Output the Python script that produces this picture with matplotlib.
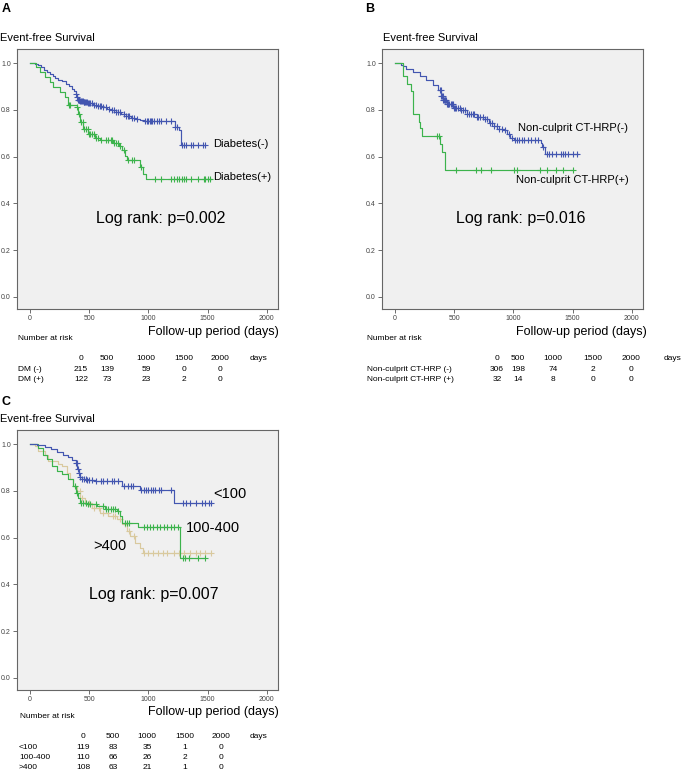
import numpy as np
import matplotlib
matplotlib.use("Agg")
import matplotlib.pyplot as plt

plt.rcParams["font.family"] = ["Liberation Sans", "DejaVu Sans"]

W, H = 683, 770
BLUE = "#4356b0"
GREEN = "#3cb34c"
TAN = "#d9c99e"

# ---- panel A: diabetes ----
a_neg_t = [0, 45, 70, 95, 120, 140, 165, 190, 215, 240, 270, 300, 330, 355, 375, 390, 398, 405, 420,
           450, 490, 530, 570, 610, 650, 690, 730, 770, 810, 850, 890, 930, 965, 1222, 1255, 1272, 1476]
a_neg_s = [1.0, 0.995, 0.99, 0.981, 0.972, 0.963, 0.953, 0.943, 0.934, 0.929, 0.924, 0.912, 0.900, 0.889,
           0.879, 0.866, 0.853, 0.843, 0.838, 0.833, 0.828, 0.822, 0.816, 0.810, 0.805, 0.797, 0.789, 0.780,
           0.772, 0.766, 0.761, 0.756, 0.751, 0.728, 0.712, 0.650, 0.650]
a_neg_cens = [392, 398, 405, 410, 414, 418, 424, 430, 438, 445, 452, 460, 468, 475, 482, 490, 500, 510, 525,
              540, 560, 575, 590, 600, 620, 640, 665, 690, 710, 730, 745, 760, 790, 810, 825, 840, 860, 880,
              900, 975, 985, 995, 1010, 1020, 1030, 1050, 1070, 1090, 1110, 1150, 1190, 1225, 1240, 1285,
              1300, 1320, 1360, 1380, 1420, 1465, 1476]
a_pos_t = [0, 54, 82, 125, 167, 195, 252, 295, 323, 394, 408, 422, 450, 493, 550, 592, 705, 748, 776, 805,
           819, 932, 955, 980, 1527]
a_pos_s = [1.0, 0.983, 0.961, 0.94, 0.919, 0.897, 0.876, 0.854, 0.819, 0.814, 0.783, 0.747, 0.719, 0.697,
           0.68, 0.669, 0.657, 0.643, 0.626, 0.604, 0.586, 0.554, 0.526, 0.504, 0.504]
a_pos_cens = [330, 340, 400, 410, 430, 445, 460, 475, 490, 500, 510, 520, 540, 560, 575, 600, 640, 660,
              680, 690, 710, 730, 745, 760, 790, 830, 860, 880, 940, 1060, 1110, 1190, 1220, 1240, 1260,
              1280, 1300, 1320, 1360, 1420, 1470, 1480, 1500, 1520]

# ---- panel B: non-culprit CT-HRP ----
b_neg_t = [0, 51, 65, 94, 151, 207, 264, 321, 364, 392, 406, 435, 491, 548, 605, 690, 747, 790, 832, 861,
           918, 946, 974, 1003, 1230, 1244, 1264, 1543]
b_neg_s = [1.0, 0.993, 0.986, 0.976, 0.961, 0.943, 0.929, 0.904, 0.883, 0.861, 0.84, 0.826, 0.809, 0.797,
           0.78, 0.771, 0.761, 0.743, 0.729, 0.719, 0.714, 0.697, 0.68, 0.671, 0.657, 0.64, 0.611, 0.611]
b_neg_cens = [380, 388, 392, 400, 404, 408, 415, 420, 425, 432, 440, 445, 450, 460, 470, 480, 490, 500, 508,
              515, 530, 545, 560, 575, 590, 610, 625, 640, 655, 670, 690, 705, 720, 740, 760, 780, 800, 820,
              840, 860, 880, 900, 930, 960, 990, 1010, 1030, 1050, 1070, 1090, 1120, 1150, 1180, 1210,
              1250, 1280, 1300, 1330, 1360, 1400, 1420, 1440, 1460, 1500, 1540]
b_pos_t = [0, 65, 102, 131, 148, 200, 212, 225, 378, 400, 420, 1500]
b_pos_s = [1.0, 0.943, 0.909, 0.88, 0.784, 0.749, 0.72, 0.69, 0.654, 0.619, 0.543, 0.543]
b_pos_cens = [358, 370, 514, 685, 724, 810, 1008, 1031, 1224, 1287, 1358, 1415, 1500]

# ---- panel C: three groups ----
c_lo_t = [0, 60, 130, 180, 230, 280, 320, 355, 385, 398, 410, 422, 440, 480, 550, 780, 930, 1215, 1530]
c_lo_s = [1.0, 0.994, 0.987, 0.977, 0.966, 0.955, 0.944, 0.933, 0.92, 0.895, 0.875, 0.86, 0.852, 0.847,
          0.84, 0.822, 0.802, 0.746, 0.746]
c_lo_cens = [385, 395, 405, 415, 425, 440, 455, 470, 485, 500, 520, 560, 600, 620, 650, 690, 710, 740, 790,
             830, 850, 870, 940, 960, 980, 1000, 1020, 1040, 1060, 1090, 1110, 1190, 1290, 1320, 1350,
             1400, 1450, 1480, 1510, 1530]
c_mid_t = [0, 70, 112, 141, 183, 225, 267, 323, 366, 385, 402, 422, 478, 563, 633, 731, 759, 774, 914,
           1266, 1477]
c_mid_s = [1.0, 0.984, 0.955, 0.934, 0.906, 0.884, 0.87, 0.849, 0.82, 0.792, 0.771, 0.749, 0.742, 0.734,
           0.723, 0.713, 0.692, 0.664, 0.647, 0.514, 0.514]
c_mid_cens = [380, 400, 430, 450, 470, 490, 510, 560, 620, 640, 660, 680, 700, 720, 740, 800, 820, 840,
              960, 990, 1010, 1040, 1070, 1100, 1130, 1160, 1190, 1220, 1250, 1290, 1310, 1340, 1420, 1477]
c_hi_t = [0, 45, 70, 126, 155, 239, 267, 310, 338, 366, 394, 422, 464, 520, 591, 661, 731, 774, 816, 844,
          886, 929, 957, 1533]
c_hi_s = [1.0, 0.99, 0.97, 0.955, 0.927, 0.913, 0.906, 0.877, 0.849, 0.82, 0.80, 0.771, 0.749, 0.728,
          0.706, 0.692, 0.678, 0.656, 0.628, 0.607, 0.578, 0.557, 0.534, 0.534]
c_hi_cens = [420, 440, 470, 500, 540, 580, 620, 660, 700, 720, 760, 800, 840, 880, 960, 1000, 1040, 1080,
             1120, 1160, 1220, 1260, 1300, 1350, 1400, 1440, 1480, 1533]

# ---- number at risk ----
risk_times = [0, 500, 1000, 1500, 2000]
a_risk_labels = ["DM (-)", "DM (+)"]
a_risk = [[215, 139, 59, 0, 0], [122, 73, 23, 2, 0]]
b_risk_labels = ["Non-culprit CT-HRP (-)", "Non-culprit CT-HRP (+)"]
b_risk = [[306, 198, 74, 2, 0], [32, 14, 8, 0, 0]]
c_risk_labels = ["<100", "100-400", ">400"]
c_risk = [[119, 83, 35, 1, 0], [110, 66, 26, 2, 0], [108, 63, 21, 1, 0]]

fig = plt.figure(figsize=(W / 100, H / 100), dpi=100)


def fx(x):
    return x / W


def fy(y):
    return 1 - y / H


def txt(x, y, s, size, ha="left", weight="normal", color="black"):
    fig.text(fx(x), fy(y), s, fontsize=size, ha=ha, va="center", fontweight=weight, color=color)


def km_axes(left, top, right, bottom, curves):
    ax = fig.add_axes([fx(left), fy(bottom), (right - left) / W, (bottom - top) / H])
    ax.set_facecolor("#f0f0f0")
    for times, surv, cens, color in curves:
        ax.step(times, surv, where="post", color=color, lw=0.85)
        idx = np.searchsorted(times, cens, side="right") - 1
        ax.plot(cens, np.asarray(surv)[idx], ls="none", marker="+", ms=4, mew=0.8, color=color)
    ax.set_xlim(-110, 2095)
    ax.set_ylim(-0.052, 1.06)
    ax.set_xticks([0, 500, 1000, 1500, 2000])
    ax.set_yticks([0, 0.2, 0.4, 0.6, 0.8, 1.0])
    ax.set_yticklabels(["%.1f" % v for v in [0, 0.2, 0.4, 0.6, 0.8, 1.0]])
    ax.tick_params(labelsize=5, length=3, width=0.6, color="#555555", labelcolor="#444444", pad=1.5)
    for sp in ax.spines.values():
        sp.set_color("#666666")
        sp.set_linewidth(0.8)
    return ax


def risk_table(label_x, cols, days_x, y0, labels, rows):
    for x, t in zip(cols, risk_times):
        txt(x, y0, str(t), 6, ha="center")
    txt(days_x, y0, "days", 6, ha="center")
    for i, (lab, vals) in enumerate(zip(labels, rows)):
        y = y0 + 10.3 * (i + 1)
        txt(label_x, y, lab, 6)
        for x, v in zip(cols, vals):
            txt(x, y, str(v), 6, ha="center")


# panel A
km_axes(17, 49, 278, 309, [(a_neg_t, a_neg_s, a_neg_cens, BLUE), (a_pos_t, a_pos_s, a_pos_cens, GREEN)])
txt(2, 9, "A", 9, weight="bold")
txt(0, 38, "Event-free Survival", 8)
txt(213, 144, "Diabetes(-)", 8)
txt(213, 177, "Diabetes(+)", 8)
txt(96, 218, "Log rank: p=0.002", 11.5)
txt(279, 332, "Follow-up period (days)", 9, ha="right")
txt(18, 338, "Number at risk", 6)
risk_table(18, [81, 107, 146, 184, 220], 259, 359, a_risk_labels, a_risk)

# panel B
km_axes(382, 49, 643, 309, [(b_neg_t, b_neg_s, b_neg_cens, BLUE), (b_pos_t, b_pos_s, b_pos_cens, GREEN)])
txt(365, 9, "B", 9, weight="bold")
txt(383, 38, "Event-free Survival", 8)
txt(518, 128, "Non-culprit CT-HRP(-)", 8)
txt(516, 180, "Non-culprit CT-HRP(+)", 8)
txt(456, 218, "Log rank: p=0.016", 11.5)
txt(647, 332, "Follow-up period (days)", 9, ha="right")
txt(367, 339, "Number at risk", 6)
risk_table(367, [497, 518, 553, 593, 631], 673, 359, b_risk_labels, b_risk)

# panel C
km_axes(17, 430, 278, 690, [(c_hi_t, c_hi_s, c_hi_cens, TAN), (c_mid_t, c_mid_s, c_mid_cens, GREEN),
                            (c_lo_t, c_lo_s, c_lo_cens, BLUE)])
txt(1, 402, "C", 9, weight="bold")
txt(0, 419, "Event-free Survival", 8)
txt(213, 494, "<100", 10.5)
txt(186, 528, "100-400", 10.5)
txt(93, 546, ">400", 10.5)
txt(89, 595, "Log rank: p=0.007", 11.5)
txt(279, 712, "Follow-up period (days)", 9, ha="right")
txt(20, 716, "Number at risk", 6)
risk_table(19, [83, 113, 147, 185, 221], 259, 737, c_risk_labels, c_risk)

fig.savefig("out.png", dpi=100)
